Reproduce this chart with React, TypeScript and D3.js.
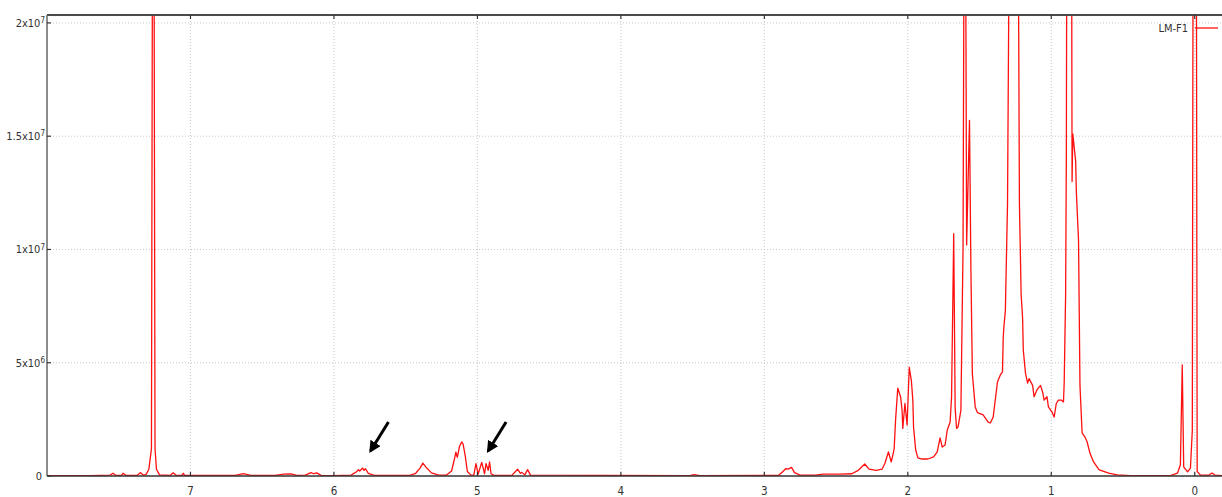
import React, { useEffect, useRef } from 'react';
import * as d3 from 'd3';

// chemical shift (ppm) and intensity (x10^6)
const spectrum: [number, number][] = [
  [8.0, 0.02], [7.7, 0.02], [7.56, 0.04], [7.54, 0.12], [7.52, 0.03],
  [7.48, 0.03], [7.47, 0.12], [7.45, 0.03], [7.37, 0.03], [7.35, 0.15], [7.33, 0.04],
  [7.31, 0.06], [7.29, 0.3], [7.272, 1.2], [7.263, 30], [7.256, 30], [7.247, 1.2],
  [7.237, 0.3], [7.216, 0.05], [7.14, 0.03], [7.12, 0.14], [7.1, 0.03],
  [7.06, 0.03], [7.05, 0.12], [7.04, 0.03], [6.69, 0.03], [6.63, 0.1], [6.58, 0.03],
  [6.41, 0.03], [6.35, 0.08], [6.3, 0.09], [6.26, 0.03], [6.2, 0.04], [6.16, 0.15],
  [6.14, 0.1], [6.12, 0.14], [6.09, 0.03], [6.0, 0.02],
  [5.88, 0.04], [5.84, 0.2], [5.83, 0.28], [5.82, 0.22], [5.8, 0.35], [5.79, 0.25],
  [5.78, 0.32], [5.76, 0.12], [5.72, 0.03],
  [5.47, 0.03], [5.43, 0.12], [5.4, 0.35], [5.38, 0.57], [5.36, 0.4], [5.32, 0.14], [5.27, 0.04],
  [5.215, 0.04], [5.18, 0.22], [5.16, 0.75], [5.15, 1.05], [5.14, 0.82], [5.125, 1.3],
  [5.11, 1.5], [5.1, 1.42], [5.085, 0.9], [5.07, 0.2], [5.045, 0.04],
  [5.025, 0.05], [5.01, 0.55], [4.995, 0.08], [4.97, 0.6], [4.95, 0.1], [4.94, 0.55],
  [4.925, 0.25], [4.915, 0.62], [4.905, 0.1], [4.885, 0.03],
  [4.76, 0.03], [4.72, 0.3], [4.7, 0.12], [4.69, 0.16], [4.67, 0.05], [4.65, 0.28], [4.63, 0.04],
  [4.14, 0.03], [3.52, 0.02], [3.49, 0.06], [3.45, 0.02],
  [2.9, 0.03], [2.87, 0.2], [2.85, 0.33], [2.835, 0.3], [2.81, 0.38], [2.79, 0.15], [2.75, 0.04],
  [2.645, 0.04], [2.59, 0.08], [2.47, 0.08], [2.39, 0.1], [2.345, 0.25], [2.3, 0.53],
  [2.27, 0.3], [2.22, 0.25], [2.18, 0.3], [2.16, 0.55], [2.135, 1.06], [2.115, 0.62],
  [2.095, 1.2], [2.085, 2.5], [2.07, 3.88], [2.05, 3.49], [2.04, 2.9], [2.035, 2.1],
  [2.02, 3.2], [2.005, 2.25], [1.99, 4.8], [1.975, 4.2], [1.965, 3.35], [1.96, 2.16],
  [1.945, 1.15], [1.93, 0.8], [1.9, 0.75], [1.86, 0.75], [1.82, 0.84], [1.795, 1.06],
  [1.775, 1.68], [1.76, 1.28], [1.74, 1.37], [1.725, 2.03], [1.705, 2.38], [1.695, 3.5],
  [1.68, 10.7], [1.67, 3.0], [1.66, 2.1], [1.65, 2.16], [1.63, 2.9], [1.615, 10],
  [1.605, 30], [1.6, 30], [1.59, 10.2], [1.57, 15.7], [1.56, 9], [1.55, 4.5], [1.53, 3.05],
  [1.515, 2.8], [1.475, 2.7], [1.44, 2.38], [1.425, 2.34], [1.405, 2.6], [1.375, 4.15],
  [1.355, 4.46], [1.34, 4.6], [1.335, 6.1], [1.33, 6.6], [1.32, 7.3], [1.305, 12],
  [1.292, 25], [1.286, 30], [1.234, 30], [1.222, 12], [1.21, 8], [1.2, 7.0], [1.195, 5.56],
  [1.18, 4.55], [1.165, 4.1], [1.155, 4.3], [1.13, 4.0], [1.12, 3.5], [1.1, 3.8],
  [1.075, 4.0], [1.06, 3.7], [1.05, 3.35], [1.03, 3.5], [1.02, 3.05], [0.995, 2.82],
  [0.98, 2.6], [0.965, 3.2], [0.95, 3.35], [0.93, 3.35], [0.915, 3.27], [0.91, 4.1],
  [0.9, 8], [0.895, 14], [0.89, 30], [0.86, 30], [0.855, 13.0], [0.85, 15.1], [0.83, 13.9],
  [0.825, 12.5], [0.81, 10.4], [0.8, 4], [0.785, 1.9], [0.765, 1.72], [0.75, 1.5],
  [0.73, 1.0], [0.705, 0.62], [0.67, 0.3], [0.66, 0.26], [0.6, 0.13], [0.54, 0.05],
  [0.45, 0.02], [0.17, 0.02], [0.12, 0.13], [0.1, 0.5], [0.087, 4.9], [0.077, 0.4],
  [0.05, 0.18], [0.03, 0.35], [0.017, 2], [0.01, 30], [-0.01, 30], [-0.017, 0.2],
  [-0.04, 0.04], [-0.1, 0.04], [-0.12, 0.13], [-0.14, 0.04], [-0.19, 0.02],
];

const xTicks = [7, 6, 5, 4, 3, 2, 1, 0];
const yTicks = [0, 5, 10, 15, 20];
const yTickLabels: [string, string][] = [['0', ''], ['5x10', '6'], ['1x10', '7'], ['1.5x10', '7'], ['2x10', '7']];
const seriesName = 'LM-F1';
// annotation arrows: [tail ppm, tail intensity, tip ppm, tip intensity]
const arrows: [number, number, number, number][] = [
  [5.62, 2.38, 5.745, 1.1],
  [4.8, 2.38, 4.925, 1.1],
];

const W = 1222;
const H = 497;
const FONT = "'Liberation Sans Narrow', 'DejaVu Sans Condensed', 'Arial Narrow', sans-serif";

export default function App() {
  const svgRef = useRef<SVGSVGElement>(null);

  useEffect(() => {
    if (!svgRef.current) return;
    const svg = d3.select(svgRef.current);
    svg.selectAll('*').remove();

    const left = 47, right = W, top = 15, bottom = 476;
    const x = d3.scaleLinear().domain([8.0, -0.19]).range([left, right]);
    const y = d3.scaleLinear().domain([0, 20.35]).range([bottom, top]);

    svg.append('rect').attr('width', W).attr('height', H).attr('fill', '#fff');

    // grid
    const grid = svg.append('g').attr('stroke', '#c8c8c8').attr('stroke-width', 1).attr('stroke-dasharray', '1,2');
    xTicks.forEach(t => {
      grid.append('line').attr('x1', x(t)).attr('x2', x(t)).attr('y1', top).attr('y2', bottom);
    });
    yTicks.filter(t => t > 0).forEach(t => {
      grid.append('line').attr('x1', left).attr('x2', right).attr('y1', y(t)).attr('y2', y(t));
    });

    // spectrum
    svg.append('clipPath').attr('id', 'plotclip')
      .append('rect').attr('x', left).attr('y', top).attr('width', right - left).attr('height', bottom - top);

    const line = d3.line<[number, number]>().x(d => x(d[0])).y(d => y(d[1]));
    svg.append('path')
      .datum(spectrum)
      .attr('clip-path', 'url(#plotclip)')
      .attr('fill', 'none')
      .attr('stroke', '#ff1010')
      .attr('stroke-width', 1.3)
      .attr('stroke-linejoin', 'round')
      .attr('d', line);

    // frame
    svg.append('line').attr('x1', left).attr('x2', right).attr('y1', top).attr('y2', top)
      .attr('stroke', '#4a4a4a').attr('stroke-width', 2);
    svg.append('line').attr('x1', left).attr('x2', right).attr('y1', bottom).attr('y2', bottom)
      .attr('stroke', '#333').attr('stroke-width', 1.5);
    svg.append('line').attr('x1', left).attr('x2', left).attr('y1', top).attr('y2', bottom)
      .attr('stroke', '#666').attr('stroke-width', 1.5);

    // x ticks + labels
    xTicks.forEach(t => {
      svg.append('line').attr('x1', x(t)).attr('x2', x(t)).attr('y1', bottom).attr('y2', bottom - 4)
        .attr('stroke', '#333').attr('stroke-width', 1.2);
      svg.append('line').attr('x1', x(t)).attr('x2', x(t)).attr('y1', top).attr('y2', top + 4)
        .attr('stroke', '#333').attr('stroke-width', 1.2);
      svg.append('text').attr('x', x(t)).attr('y', 494.5)
        .attr('text-anchor', 'middle').attr('font-family', FONT).attr('font-size', 11.5).attr('fill', '#333')
        .text(String(t));
    });

    // y ticks + labels
    yTicks.forEach((t, i) => {
      svg.append('line').attr('x1', left).attr('x2', left + 4).attr('y1', y(t)).attr('y2', y(t))
        .attr('stroke', '#333').attr('stroke-width', 1.2);
      const [base, sup] = yTickLabels[i];
      const txt = svg.append('text').attr('x', sup ? 45 : 42).attr('y', y(t)).attr('dy', '0.35em')
        .attr('text-anchor', 'end').attr('font-family', FONT).attr('font-size', 11).attr('fill', '#333');
      txt.append('tspan').text(base);
      if (sup) txt.append('tspan').attr('dy', '-0.45em').attr('font-size', 8).text(sup);
    });

    // legend
    svg.append('text').attr('x', 1188).attr('y', 28).attr('dy', '0.35em').attr('text-anchor', 'end')
      .attr('font-family', FONT).attr('font-size', 11).attr('fill', '#333').text(seriesName);
    svg.append('line').attr('x1', 1195).attr('x2', 1218).attr('y1', 28).attr('y2', 28)
      .attr('stroke', '#ff1010').attr('stroke-width', 1.3);

    // arrows
    const defs = svg.append('defs');
    defs.append('marker').attr('id', 'ah').attr('viewBox', '0 0 10 10').attr('refX', 8).attr('refY', 5)
      .attr('markerWidth', 4).attr('markerHeight', 4).attr('orient', 'auto')
      .append('path').attr('d', 'M0,0L10,5L0,10Z').attr('fill', '#000');
    arrows.forEach(([p0, i0, p1, i1]) => {
      svg.append('line').attr('x1', x(p0)).attr('y1', y(i0)).attr('x2', x(p1)).attr('y2', y(i1))
        .attr('stroke', '#000').attr('stroke-width', 3).attr('marker-end', 'url(#ah)');
    });
  }, []);

  return (
    <svg
      ref={svgRef}
      width={W}
      height={H}
      style={{ position: 'absolute', left: 0, top: 0, display: 'block' }}
    />
  );
}
